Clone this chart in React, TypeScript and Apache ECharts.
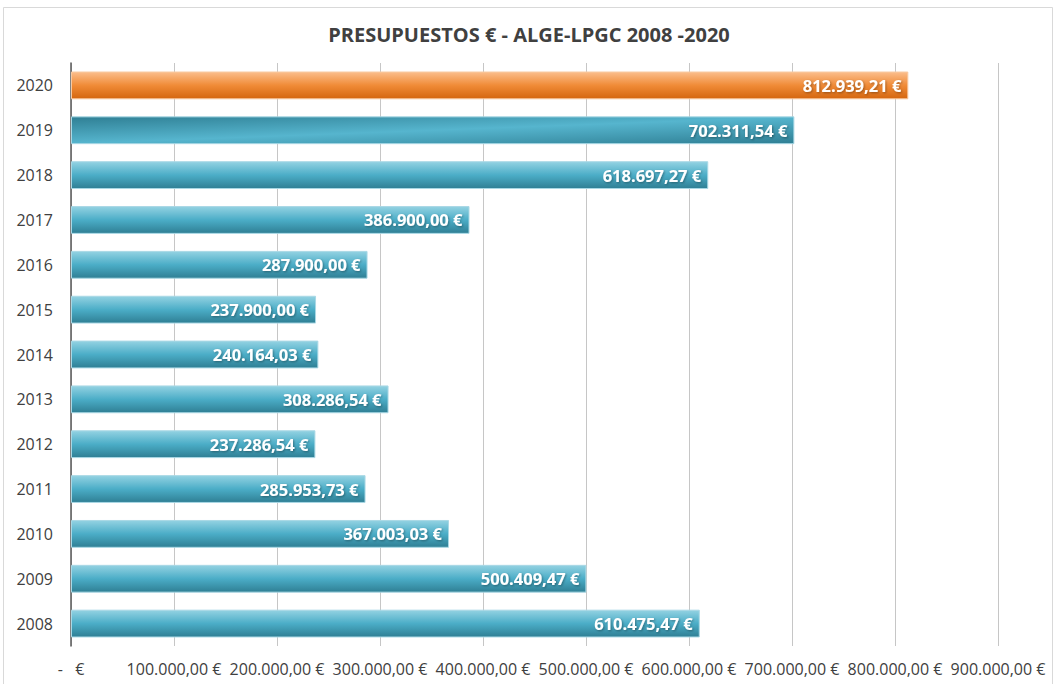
import React, { useEffect, useRef } from "react";
import * as echarts from "echarts";

const years = ["2008", "2009", "2010", "2011", "2012", "2013", "2014", "2015", "2016", "2017", "2018", "2019", "2020"];
const budgets = [610475.47, 500409.47, 367003.03, 285953.73, 237286.54, 308286.54, 240164.03, 237900.0, 287900.0, 386900.0, 618697.27, 702311.54, 812939.21];
const axisTicks = [0, 100000, 200000, 300000, 400000, 500000, 600000, 700000, 800000, 900000];

const FONT = "'Open Sans', 'Noto Sans', sans-serif";

function fmtEuro(v: number): string {
  const fixed = v.toFixed(2);
  const [intPart, dec] = fixed.split(".");
  const withDots = intPart.replace(/\B(?=(\d{3})+(?!\d))/g, ".");
  return `${withDots},${dec} €`;
}

const tealGrad = new echarts.graphic.LinearGradient(0, 0, 0, 1, [
  { offset: 0, color: "#93d2e2" },
  { offset: 0.5, color: "#4badc7" },
  { offset: 1, color: "#2f7f94" },
]);
const tealDiag = new echarts.graphic.LinearGradient(0, 0, 1, 1, [
  { offset: 0, color: "#2f7f94" },
  { offset: 0.5, color: "#56b5ce" },
  { offset: 1, color: "#2f7f94" },
]);
const orangeGrad = new echarts.graphic.LinearGradient(0, 0, 0, 1, [
  { offset: 0, color: "#fbbe8c" },
  { offset: 0.5, color: "#f08b37" },
  { offset: 1, color: "#d4660f" },
]);

export default function App() {
  const ref = useRef<HTMLDivElement>(null);
  useEffect(() => {
    document.body.style.margin = "0";
    const chart = echarts.init(ref.current!, null, { renderer: "svg" });
    const data = budgets.map((v, i) => {
      const y = years[i];
      let color: any = tealGrad;
      let border = "#a9d8e5";
      if (y === "2020") {
        color = orangeGrad;
        border = "#f8c9a0";
      } else if (y === "2019") {
        color = tealDiag;
      }
      return { value: v, itemStyle: { color, borderColor: border, borderWidth: 1 } };
    });
    chart.setOption({
      animation: false,
      backgroundColor: "#ffffff",
      title: {
        text: "PRESUPUESTOS € - ALGE-LPGC 2008 -2020",
        left: "center",
        top: 19,
        textStyle: { fontFamily: FONT, fontSize: 20, fontWeight: "bold", color: "#404040" },
      },
      graphic: [
        {
          type: "rect",
          shape: { x: 3.5, y: 7.5, width: 1049, height: 700 },
          style: { fill: "none", stroke: "#d9d9d9", lineWidth: 1 },
          silent: true,
        },
      ],
      grid: { left: 71, right: 60, top: 63, bottom: 38, containLabel: false },
      xAxis: {
        type: "value",
        min: axisTicks[0],
        max: axisTicks[axisTicks.length - 1],
        interval: axisTicks[1] - axisTicks[0],
        axisLine: { show: false },
        axisTick: { show: false },
        splitLine: { show: true, lineStyle: { color: "#c6c6c6", width: 1 } },
        axisLabel: {
          fontFamily: FONT,
          fontSize: 16,
          color: "#404040",
          margin: 15,
          formatter: (v: number) => (v === 0 ? "-   €" : fmtEuro(v)),
        },
      },
      yAxis: {
        type: "category",
        data: years,
        axisLine: { show: true, lineStyle: { color: "#595959", width: 1.5 } },
        axisTick: { show: false },
        axisLabel: { fontFamily: FONT, fontSize: 16, color: "#404040", margin: 18 },
      },
      series: [
        {
          type: "bar",
          data,
          barCategoryGap: "38%",
          label: {
            show: true,
            position: "insideRight",
            distance: 7,
            fontFamily: FONT,
            fontSize: 16.5,
            fontWeight: "bold",
            color: "#ffffff",
            textShadowColor: "rgba(0,0,0,0.35)",
            textShadowBlur: 2,
            textShadowOffsetX: 1,
            textShadowOffsetY: 1,
            formatter: (p: any) => fmtEuro(p.value),
          },
        },
      ],
    });
    return () => chart.dispose();
  }, []);
  return <div ref={ref} style={{ width: 1058, height: 684, position: "absolute", left: 0, top: 0 }} />;
}
